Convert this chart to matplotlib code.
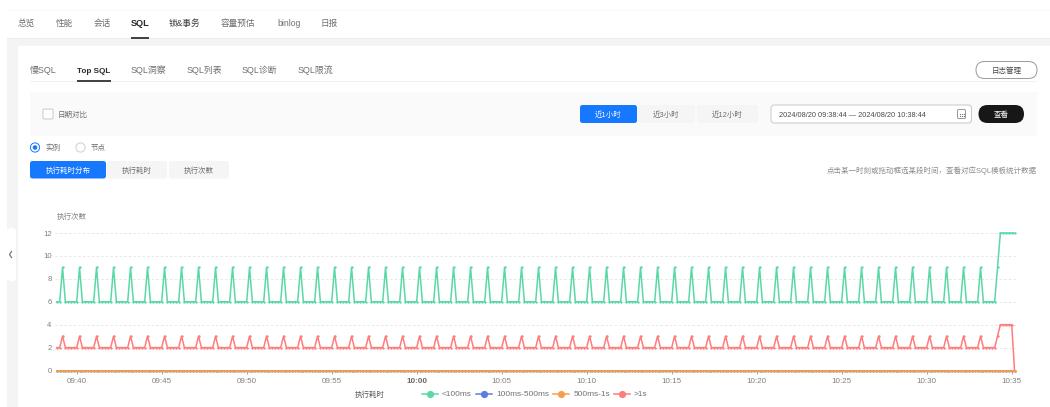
import matplotlib
matplotlib.use("Agg")
import numpy as np
import matplotlib.pyplot as plt
from matplotlib.patches import FancyBboxPatch, Rectangle, Circle
from matplotlib.lines import Line2D

plt.rcParams['font.family'] = ['Liberation Sans', 'Noto Sans CJK SC', 'DejaVu Sans']

# ---------- data ----------
FIRST_SAMPLE_MIN = -70 / 60      # 09:38:50 relative to 09:40, in minutes
SAMPLE_STEP_MIN = 10 / 60

lt_100ms = [
    6,
    6,9,6,6,6,6, 6,9,6,6,6,6, 6,9,6,6,6,6, 6,9,6,6,6,6, 6,9,6,6,6,6,
    6,9,6,6,6,6, 6,9,6,6,6,6, 6,9,6,6,6,6, 6,9,6,6,6,6, 6,9,6,6,6,6,
    6,9,6,6,6,6, 6,9,6,6,6,6, 6,9,6,6,6,6, 6,9,6,6,6,6, 6,9,6,6,6,6,
    6,9,6,6,6,6, 6,9,6,6,6,6, 6,9,6,6,6,6, 6,9,6,6,6,6, 6,9,6,6,6,6,
    6,9,6,6,6,6, 6,9,6,6,6,6, 6,9,6,6,6,6, 6,9,6,6,6,6, 6,9,6,6,6,6,
    6,9,6,6,6,6, 6,9,6,6,6,6, 6,9,6,6,6,6, 6,9,6,6,6,6, 6,9,6,6,6,6,
    6,9,6,6,6,6, 6,9,6,6,6,6, 6,9,6,6,6,6, 6,9,6,6,6,6, 6,9,6,6,6,6,
    6,9,6,6,6,6, 6,9,6,6,6,6, 6,9,6,6,6,6, 6,9,6,6,6,6, 6,9,6,6,6,6,
    6,9,6,6,6,6, 6,9,6,6,6,6, 6,9,6,6,6,6, 6,9,6,6,6,6, 6,9,6,6,6,6,
    6,9,6,6,6,6, 6,9,6,6,6,6, 6,9,6,6,6,6, 6,9,6,6,6,6, 6,9,6,6,6,6,
    6,9,6,6,6,6, 6,9,6,6,6,6, 6,9,6,6,6,6, 6,9,6,6,6,6, 6,9,6,6,6,6,
    6,9,12,12,12,12, 12,12,
]
gt_1s = [
    2,
    2,3,2,2,2,2, 2,3,2,2,2,2, 2,3,2,2,2,2, 2,3,2,2,2,2, 2,3,2,2,2,2,
    2,3,2,2,2,2, 2,3,2,2,2,2, 2,3,2,2,2,2, 2,3,2,2,2,2, 2,3,2,2,2,2,
    2,3,2,2,2,2, 2,3,2,2,2,2, 2,3,2,2,2,2, 2,3,2,2,2,2, 2,3,2,2,2,2,
    2,3,2,2,2,2, 2,3,2,2,2,2, 2,3,2,2,2,2, 2,3,2,2,2,2, 2,3,2,2,2,2,
    2,3,2,2,2,2, 2,3,2,2,2,2, 2,3,2,2,2,2, 2,3,2,2,2,2, 2,3,2,2,2,2,
    2,3,2,2,2,2, 2,3,2,2,2,2, 2,3,2,2,2,2, 2,3,2,2,2,2, 2,3,2,2,2,2,
    2,3,2,2,2,2, 2,3,2,2,2,2, 2,3,2,2,2,2, 2,3,2,2,2,2, 2,3,2,2,2,2,
    2,3,2,2,2,2, 2,3,2,2,2,2, 2,3,2,2,2,2, 2,3,2,2,2,2, 2,3,2,2,2,2,
    2,3,2,2,2,2, 2,3,2,2,2,2, 2,3,2,2,2,2, 2,3,2,2,2,2, 2,3,2,2,2,2,
    2,3,2,2,2,2, 2,3,2,2,2,2, 2,3,2,2,2,2, 2,3,2,2,2,2, 2,3,2,2,2,2,
    2,3,2,2,2,2, 2,3,2,2,2,2, 2,3,2,2,2,2, 2,3,2,2,2,2, 2,3,2,2,2,2,
    2,3,4,4,4,4, 4,0,
]
ms_100_500 = [0] * len(lt_100ms)
ms_500_1s = [0] * len(lt_100ms)

series_names = ['<100ms', '100ms-500ms', '500ms-1s', '>1s']
series_colors = ['#5AD8A6', '#5B7FE0', '#F6A04D', '#FF7C7C']

tick_minutes = [0, 5, 10, 15, 20, 25, 30, 35, 40, 45, 50, 55]
tick_labels = ['09:40', '09:45', '09:50', '09:55', '10:00', '10:05',
               '10:10', '10:15', '10:20', '10:25', '10:30', '10:35']
y_ticks = [0, 2, 4, 6, 8, 10, 12]

# ---------- page shell (pixel coordinates) ----------
W, H = 1050, 407
fig = plt.figure(figsize=(W / 100, H / 100), dpi=100, facecolor='white')
ui = fig.add_axes([0, 0, 1, 1])
ui.set_xlim(0, W)
ui.set_ylim(H, 0)
ui.axis('off')

DARK, MID, LIGHT = '#2a2a2a', '#6e6e6e', '#8c8c8c'
BLUE = '#1677FF'


def rect(x0, y0, x1, y1, color, z=1):
    ui.add_patch(Rectangle((x0, y0), x1 - x0, y1 - y0, fc=color, ec='none', zorder=z))


def pill(x0, y0, x1, y1, r, fc, ec='none', lw=0.8, z=2):
    ui.add_patch(FancyBboxPatch((x0 + r, y0 + r), x1 - x0 - 2 * r, y1 - y0 - 2 * r,
                                boxstyle=f'round,pad={r},rounding_size={r}',
                                fc=fc, ec=ec, lw=lw, zorder=z))


def label(x, y, s, size=5.4, color=MID, ha='left', weight='normal'):
    # shared baseline so Latin and CJK strings line up
    ui.text(x, y + size * 0.48, s, fontsize=size, color=color, ha=ha, va='baseline',
            weight=weight, zorder=5)


# backgrounds
rect(7, 38, W, 46, '#F4F4F4')
rect(7, 38, 18, H, '#F4F4F4')
rect(7, 10, W, 11, '#FAFAFA')
rect(7, 37.5, W, 39, '#EDEDED')
pill(7, 228, 16, 281, 4, 'white')
ui.plot([11.5, 9.5, 11.5], [251.5, 254.5, 257.5], color='#777777', lw=0.9, zorder=3)

# top nav
for x, s in [(18, '总览'), (56, '性能'), (94, '会话'), (221, '容量预估'), (277, 'binlog'), (321, '日报')]:
    label(x, 23, s, size=6.2)
label(131, 23, 'SQL', color=DARK, size=6.6, weight='bold')
label(169, 23, '锁&事务', color='#3c3c3c', size=6.2, weight='medium')
rect(131, 36.5, 149, 38.5, '#444444', 3)

# second nav
rect(30, 81, 1037, 81.7, '#F2F2F2')
for x, s in [(30, '慢SQL'), (131, 'SQL洞察'), (187, 'SQL列表'), (242, 'SQL诊断'), (298, 'SQL限流')]:
    label(x, 70, s, size=6.4)
label(77, 70, 'Top SQL', color=DARK, size=5.9, weight='bold')
rect(77, 80, 111, 81.5, '#444444', 3)
pill(976, 61.5, 1037, 78.5, 8.5, 'white', '#999999', 0.7)
label(1006.5, 70, '日志管理', color='#444444', ha='center')

# filter box
rect(30, 92, 1037, 135.5, '#FAFAFA')
pill(43, 109, 53, 119, 1.5, 'white', '#C8C8C8', 0.7)
label(58, 114, '日期对比')
pill(580, 105, 637, 123, 2.5, BLUE)
label(608.5, 114, '近1小时', color='white', ha='center')
pill(638, 105, 695, 123, 2.5, '#F5F5F5')
label(666.5, 114, '近3小时', ha='center')
pill(697, 105, 758, 123, 2.5, '#F5F5F5')
label(727.5, 114, '近12小时', ha='center')
pill(771, 105, 971.5, 123, 3, 'white', '#C8C8C8', 0.7)
label(779, 114, '2024/08/20 09:38:44 — 2024/08/20 10:38:44', color='#4a4a4a', size=5.35)
pill(957.5, 109.5, 965.5, 118.5, 1.2, 'white', '#888888', 0.6, z=3)
ui.plot([959.5, 961.5, 963.5] * 2, [113.5] * 3 + [116] * 3, ls='none', marker='s', ms=0.8,
        mew=0, color='#777777', zorder=4)
pill(978.5, 105, 1024, 123, 9, '#171717')
label(1001, 114, '查看', color='white', ha='center')

# radios
ui.add_patch(Circle((35, 147.5), 4.6, fc='white', ec=BLUE, lw=0.7, zorder=3))
ui.add_patch(Circle((35, 147.5), 2.3, fc=BLUE, ec='none', zorder=4))
label(45, 147.5, '实例')
ui.add_patch(Circle((80.5, 147.5), 4.6, fc='white', ec='#CFCFCF', lw=0.7, zorder=3))
label(91, 147.5, '节点')

# tab buttons
pill(30, 161, 106, 178.5, 2.5, BLUE)
label(68, 170, '执行耗时分布', color='white', ha='center')
pill(107, 161, 167, 178.5, 2.5, '#F5F5F5')
label(137, 170, '执行耗时', ha='center')
pill(169, 161, 229, 178.5, 2.5, '#F5F5F5')
label(199, 170, '执行次数', ha='center')
label(1037, 170, '点击某一时刻或拖动框选某段时间，查看对应SQL模板统计数据', color=LIGHT, ha='right')

# ---------- chart ----------
PX_L, PX_R, PX_T, PX_B = 55.0, 1015.5, 233.0, 370.5
ax = fig.add_axes([PX_L / W, 1 - PX_B / H, (PX_R - PX_L) / W, (PX_B - PX_T) / H])
ax.patch.set_alpha(0)
PX_PER_MIN = 17.0
ax.set_xlim((PX_L - 76.7) / PX_PER_MIN, (PX_R - 76.7) / PX_PER_MIN)
ax.set_ylim(0, 12)
for sp in ax.spines.values():
    sp.set_visible(False)

t = FIRST_SAMPLE_MIN + SAMPLE_STEP_MIN * np.arange(len(lt_100ms))
order = [lt_100ms, ms_100_500, ms_500_1s, gt_1s]
zorders = [3, 3, 5, 4]
for vals, name, col, z in zip(order, series_names, series_colors, zorders):
    ax.plot(t, vals, color=col, lw=1.1, marker='o', ms=1.7, mew=0, label=name,
            clip_on=False, zorder=z)

ax.set_yticks(y_ticks)
ax.set_xticks(tick_minutes)
ax.set_xticklabels(tick_labels)
ax.tick_params(axis='y', length=0, pad=2.4, labelsize=5.6, labelcolor='#808080')
ax.tick_params(axis='x', length=2.5, width=0.6, color='#999999', pad=2.6, labelsize=5.8, labelcolor='#808080')
for lab in ax.get_xticklabels():
    if lab.get_text() == '10:00':
        lab.set_fontweight('bold')
        lab.set_color('#666666')
ax.yaxis.grid(True, color='#E4E4E4', lw=0.6, ls=(0, (3, 2.5)), zorder=0)
ax.set_axisbelow(True)
ax.yaxis.get_gridlines()[0].set_visible(False)

label(57, 216, '执行次数', color='#808080')

# legend
label(355, 394.5, '执行耗时', color='#555555')
handles = [Line2D([], [], color=c, lw=1.1, marker='o', ms=5.2, mew=0) for c in series_colors]
leg = fig.legend(handles, series_names, loc='center left',
                 bbox_to_anchor=(422 / W, 1 - 394.5 / H), ncol=4, frameon=False,
                 fontsize=5.95, labelcolor='#707070', handlelength=1.95, handletextpad=0.47,
                 columnspacing=0.5, borderpad=0, borderaxespad=0)

fig.savefig('out.png', dpi=100)
